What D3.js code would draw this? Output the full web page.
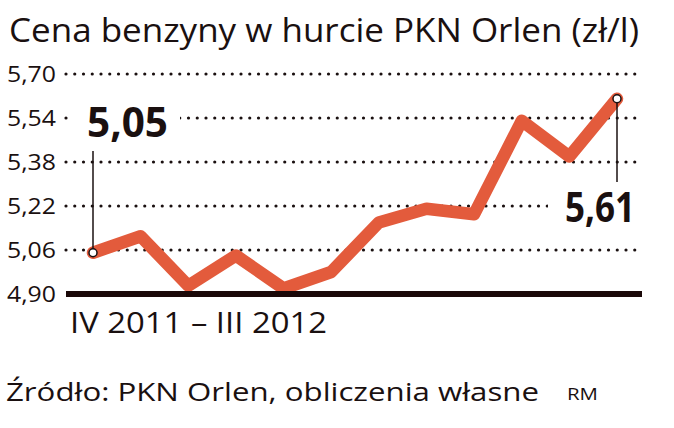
<!DOCTYPE html>
<html>
<head>
<meta charset="utf-8">
<script src="https://cdn.jsdelivr.net/npm/d3@7"></script>
<style>
  body { margin: 0; background: #fff; }
  svg { display: block; }
  text { font-family: "Open Sans", "Noto Sans", sans-serif; fill: #1a1010; }
</style>
</head>
<body>
<svg></svg>
<script>
// months IV 2011 - III 2012
var months = ['IV', 'V', 'VI', 'VII', 'VIII', 'IX', 'X', 'XI', 'XII', 'I', 'II', 'III'];
var prices = [5.05, 5.11, 4.93, 5.04, 4.92, 4.98, 5.16, 5.21, 5.19, 5.53, 5.40, 5.61];
var yTicks = [4.90, 5.06, 5.22, 5.38, 5.54, 5.70];

var svgWidth = 674, svgHeight = 428;

var svg = d3.select('svg')
.attr('width', svgWidth)
.attr('height', svgHeight);

var xScale = d3.scalePoint()
.domain(months)
.range([93, 617]);

var yScale = d3.scaleLinear()
.domain([4.90, 5.70])
.range([294, 74]);

var fmt = function(d){ return d3.format('.2f')(d).replace('.', ','); };

// title
svg.append('text')
.attr('x', 9)
.attr('y', 42)
.attr('font-size', 32)
.attr('textLength', 630)
.attr('lengthAdjust', 'spacingAndGlyphs')
.text('Cena benzyny w hurcie PKN Orlen (zł/l)');

// dotted grid
svg.append('g')
.selectAll('line')
.data(yTicks.slice(1))
.enter()
.append('line')
.attr('x1', 66)
.attr('x2', 642)
.attr('y1', function(d){ return yScale(d); })
.attr('y2', function(d){ return yScale(d); })
.attr('stroke', '#1a1010')
.attr('stroke-width', 3.2)
.attr('stroke-linecap', 'round')
.attr('stroke-dasharray', '0 8.75');

// y axis labels
var y_axis = d3.axisLeft()
.scale(yScale)
.tickValues(yTicks)
.tickSize(0)
.tickPadding(0)
.tickFormat(fmt);

var yg = svg.append('g')
.attr('transform', 'translate(56, 0)')
.call(y_axis);
yg.select('.domain').remove();
yg.selectAll('text')
.attr('font-size', 22)
.attr('font-family', '"Open Sans", sans-serif')
.attr('fill', '#1a1010')
.attr('textLength', 49)
.attr('lengthAdjust', 'spacingAndGlyphs');

// white boxes behind big value labels
svg.append('rect').attr('x', 70).attr('y', 104).attr('width', 110).attr('height', 40).attr('fill', '#fff');
svg.append('rect').attr('x', 548).attr('y', 196).attr('width', 100).attr('height', 30).attr('fill', '#fff');

// price line
var line = d3.line()
.x(function(d, i){ return xScale(months[i]); })
.y(function(d){ return yScale(d); });

svg.append('path')
.datum(prices)
.attr('d', line)
.attr('fill', 'none')
.attr('stroke', '#e35b3c')
.attr('stroke-width', 12.5)
.attr('stroke-linejoin', 'round')
.attr('stroke-linecap', 'round');

// baseline
svg.append('line')
.attr('x1', 66)
.attr('x2', 642)
.attr('y1', yScale(4.90))
.attr('y2', yScale(4.90))
.attr('stroke', '#1a0808')
.attr('stroke-width', 6);

// first and last value markers
var first = 0, last = prices.length - 1;

svg.append('line')
.attr('x1', xScale(months[first])).attr('x2', xScale(months[first]))
.attr('y1', 151).attr('y2', yScale(prices[first]))
.attr('stroke', '#1a1010').attr('stroke-width', 1.5);

svg.append('line')
.attr('x1', xScale(months[last])).attr('x2', xScale(months[last]))
.attr('y1', yScale(prices[last])).attr('y2', 182)
.attr('stroke', '#1a1010').attr('stroke-width', 1.5);

svg.selectAll('circle')
.data([first, last])
.enter()
.append('circle')
.attr('cx', function(i){ return xScale(months[i]); })
.attr('cy', function(i){ return yScale(prices[i]); })
.attr('r', 4)
.attr('fill', '#fff')
.attr('stroke', '#1a1010')
.attr('stroke-width', 1.5);

svg.append('text')
.attr('x', 87).attr('y', 137)
.attr('font-size', 41).attr('font-weight', 'bold')
.attr('textLength', 81).attr('lengthAdjust', 'spacingAndGlyphs')
.text(fmt(prices[first]));

svg.append('text')
.attr('x', 565).attr('y', 222)
.attr('font-size', 41).attr('font-weight', 'bold')
.attr('textLength', 70).attr('lengthAdjust', 'spacingAndGlyphs')
.text(fmt(prices[last]));

// period label
svg.append('text')
.attr('x', 70).attr('y', 333)
.attr('font-size', 29)
.attr('textLength', 257).attr('lengthAdjust', 'spacingAndGlyphs')
.text('IV 2011 – III 2012');

// source
svg.append('text')
.attr('x', 6).attr('y', 401)
.attr('font-size', 26)
.attr('textLength', 533).attr('lengthAdjust', 'spacingAndGlyphs')
.text('Źródło: PKN Orlen, obliczenia własne');

svg.append('text')
.attr('x', 567).attr('y', 400)
.attr('font-size', 17)
.attr('textLength', 31).attr('lengthAdjust', 'spacingAndGlyphs')
.text('RM');
</script>
</body>
</html>
